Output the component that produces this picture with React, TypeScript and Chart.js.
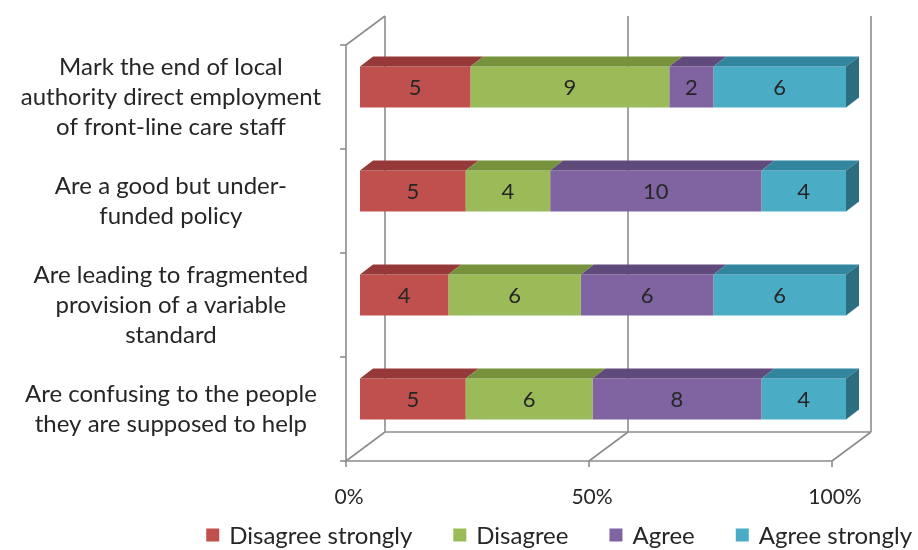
import React, { useEffect, useRef } from "react";
import { Chart, registerables } from "chart.js";

Chart.register(...registerables);

const categories: string[][] = [
  ["Mark the end of local", "authority direct employment", "of front-line care staff"],
  ["Are a good but under-", "funded policy"],
  ["Are leading to fragmented", "provision of a variable", "standard"],
  ["Are confusing to the people", "they are supposed to help"],
];

const seriesNames = ["Disagree strongly", "Disagree", "Agree", "Agree strongly"];
const disagreeStrongly = [5, 5, 4, 5];
const disagree = [9, 4, 6, 6];
const agree = [2, 10, 6, 8];
const agreeStrongly = [6, 4, 6, 4];

const xTicks = [0, 50, 100];

const frontColors = ["#C0504D", "#9BBB59", "#8064A2", "#4BACC6"];
const topColors = ["#953A38", "#76923C", "#604A7B", "#31859C"];
const sideColor = "#2A6E80";

const FONT = "Lato, 'Open Sans', sans-serif";
const TEXT = "#262626";
const WALL = "#8C8C8C";

// perspective offsets relative to the bar front plane
const FDX = -14, FDY = 10; // front edge of floor / walls
const BDX = 25, BDY = -19; // back wall
const DDX = 13, DDY = -10; // bar depth

const series = [disagreeStrongly, disagree, agree, agreeStrongly];
const totals = categories.map((_, i) => series.reduce((s, arr) => s + arr[i], 0));

const threeD = {
  id: "threeD",
  beforeDatasetsDraw(chart: any) {
    const { ctx, chartArea } = chart;
    const { left: L, right: R, top: T, bottom: B } = chartArea;
    const xs = chart.scales.x;
    const ys = chart.scales.y;
    ctx.save();
    ctx.strokeStyle = WALL;
    ctx.lineWidth = 1.6;
    const line = (x1: number, y1: number, x2: number, y2: number) => {
      ctx.beginPath();
      ctx.moveTo(x1, y1);
      ctx.lineTo(x2, y2);
      ctx.stroke();
    };
    // left wall
    line(L + FDX, T + FDY, L + FDX, B + FDY);
    line(L + BDX, T + BDY, L + BDX, B + BDY);
    line(L + FDX, T + FDY, L + BDX, T + BDY);
    // floor
    line(L + FDX, B + FDY, R + FDX, B + FDY);
    line(L + BDX, B + BDY, R + BDX, B + BDY);
    xTicks.forEach((v) => {
      const px = xs.getPixelForValue(v);
      line(px + FDX, B + FDY, px + BDX, B + BDY);
      line(px + FDX, B + FDY, px + FDX, B + FDY + 6);
      if (v > 0) line(px + BDX, T + BDY, px + BDX, B + BDY);
    });
    // category boundary ticks on the left wall
    const n = categories.length;
    for (let i = 0; i <= n; i++) {
      let yy: number;
      if (i === 0) yy = T;
      else if (i === n) yy = B;
      else yy = (ys.getPixelForValue(i - 1) + ys.getPixelForValue(i)) / 2;
      line(L + FDX - 6, yy + FDY, L + FDX, yy + FDY);
    }
    ctx.restore();
  },
  afterDatasetsDraw(chart: any) {
    const { ctx } = chart;
    ctx.save();
    const nSets = chart.data.datasets.length;
    for (let d = 0; d < nSets; d++) {
      const meta = chart.getDatasetMeta(d);
      meta.data.forEach((el: any) => {
        const p = el.getProps(["x", "y", "base", "height"], true);
        const top = p.y - p.height / 2;
        const bot = p.y + p.height / 2;
        const x0 = Math.min(p.base, p.x);
        const x1 = Math.max(p.base, p.x);
        ctx.fillStyle = topColors[d];
        ctx.beginPath();
        ctx.moveTo(x0, top);
        ctx.lineTo(x0 + DDX, top + DDY);
        ctx.lineTo(x1 + DDX, top + DDY);
        ctx.lineTo(x1, top);
        ctx.closePath();
        ctx.fill();
        if (d === nSets - 1) {
          ctx.fillStyle = sideColor;
          ctx.beginPath();
          ctx.moveTo(x1, top);
          ctx.lineTo(x1 + DDX, top + DDY);
          ctx.lineTo(x1 + DDX, bot + DDY);
          ctx.lineTo(x1, bot);
          ctx.closePath();
          ctx.fill();
        }
      });
    }
    // value labels (counts)
    ctx.fillStyle = TEXT;
    ctx.font = `22px ${FONT}`;
    ctx.textAlign = "center";
    ctx.textBaseline = "middle";
    for (let d = 0; d < nSets; d++) {
      const meta = chart.getDatasetMeta(d);
      meta.data.forEach((el: any, i: number) => {
        const p = el.getProps(["x", "y", "base"], true);
        ctx.fillText(String(series[d][i]), (p.x + p.base) / 2, p.y + 1);
      });
    }
    ctx.restore();
  },
  afterDraw(chart: any) {
    const { ctx } = chart;
    ctx.save();
    ctx.font = `24px ${FONT}`;
    ctx.textBaseline = "middle";
    ctx.textAlign = "left";
    const box = 13, gapText = 10, gapItem = 41;
    const widths = seriesNames.map((s) => box + gapText + ctx.measureText(s).width);
    const total = widths.reduce((a, b) => a + b, 0) + gapItem * (widths.length - 1);
    let x = 912 - total;
    const y = 535;
    seriesNames.forEach((s, i) => {
      ctx.fillStyle = frontColors[i];
      ctx.fillRect(x, y - box / 2, box, box);
      ctx.fillStyle = TEXT;
      ctx.fillText(s, x + box + gapText, y + 1);
      x += widths[i] + gapItem;
    });
    ctx.restore();
  },
};

export default function App() {
  const ref = useRef<HTMLCanvasElement | null>(null);
  useEffect(() => {
    if (!ref.current) return;
    const chart = new Chart(ref.current, {
      type: "bar",
      data: {
        labels: categories,
        datasets: series.map((arr, d) => ({
          label: seriesNames[d],
          data: arr.map((v, i) => (v / totals[i]) * 100),
          backgroundColor: frontColors[d],
          borderWidth: 0,
          barPercentage: 0.394,
          categoryPercentage: 1,
        })),
      },
      options: {
        indexAxis: "y",
        responsive: false,
        animation: false,
        events: [],
        layout: { padding: { left: 0, right: 0, top: 35, bottom: 0 } },
        plugins: { legend: { display: false }, tooltip: { enabled: false } },
        scales: {
          x: {
            stacked: true,
            min: 0,
            max: 100,
            afterBuildTicks: (s: any) => {
              s.ticks = xTicks.map((v) => ({ value: v }));
            },
            afterFit: (s: any) => {
              s.height = 99;
              s.paddingLeft = 0;
              s.paddingRight = 0;
            },
            grid: { display: false, drawTicks: false },
            border: { display: false },
            ticks: {
              callback: (v: any) => v + "%",
              labelOffset: -11,
              padding: 34,
              color: TEXT,
              font: { family: FONT, size: 21 },
              maxRotation: 0,
              autoSkip: false,
            },
          },
          y: {
            stacked: true,
            afterFit: (s: any) => {
              s.width = 360;
              s.paddingTop = 0;
              s.paddingBottom = 0;
            },
            grid: { display: false, drawTicks: false },
            border: { display: false },
            ticks: {
              crossAlign: "center",
              padding: 39,
              labelOffset: 10,
              autoSkip: false,
              color: TEXT,
              font: { family: FONT, size: 24, lineHeight: 1.25 },
            },
          },
          yRight: {
            position: "right",
            afterFit: (s: any) => {
              s.width = 72;
              s.paddingTop = 0;
              s.paddingBottom = 0;
            },
            grid: { display: false, drawTicks: false },
            border: { display: false },
            ticks: { display: false },
          },
        },
      },
      plugins: [threeD],
    } as any);
    return () => chart.destroy();
  }, []);
  return (
    <div style={{ position: "absolute", left: 0, top: 0, width: 918, height: 550, background: "#fff" }}>
      <canvas ref={ref} width={918} height={550} style={{ display: "block" }} />
    </div>
  );
}
